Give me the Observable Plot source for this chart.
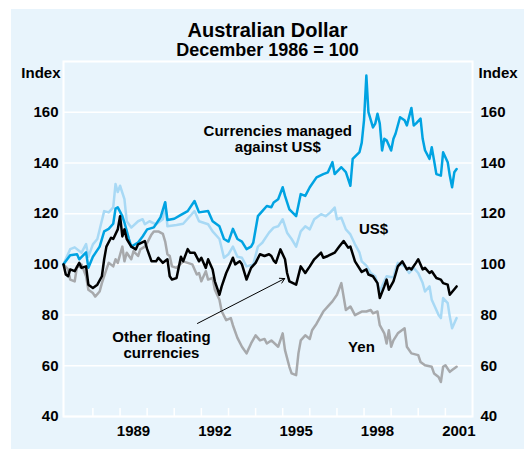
<!DOCTYPE html>
<html><head><meta charset="utf-8">
<script src="https://cdn.jsdelivr.net/npm/d3@7"></script>
<script src="https://cdn.jsdelivr.net/npm/@observablehq/plot@0.6"></script>
<style>
html,body{margin:0;padding:0;background:#fff;}
body{width:524px;height:449px;overflow:hidden;position:relative;font-family:"Liberation Sans",Arial,Helvetica,sans-serif;font-weight:bold;color:#000;}
#panel{position:absolute;left:11px;top:9px;width:513px;height:440px;background:#E8F4FC;}
#title{position:absolute;left:0;width:513px;top:11px;text-align:center;font-size:20px;line-height:20px;}
#subtitle{position:absolute;left:0;width:513px;top:32px;text-align:center;font-size:18px;line-height:18px;}
#chart{position:absolute;left:0;top:52px;}
</style></head>
<body>
<div id="panel"><div id="title">Australian Dollar</div><div id="subtitle">December 1986 = 100</div></div>
<div id="chart"></div>
<script>
// Index values, December 1986 = 100
const managed = [
 ["1986-12",100],["1987-03",103.6],["1987-06",104],["1987-07",102],["1987-10",104.7],["1987-11",98.7],
 ["1988-01",103],["1988-04",107],["1988-06",113],["1988-08",114],["1988-10",116],["1988-11",122],["1988-12",122.5],
 ["1989-02",119],["1989-03",116.5],["1989-05",110],["1989-06",107],["1989-09",108.6],["1989-11",111],
 ["1990-01",113.8],["1990-04",114.6],["1990-07",118.6],["1990-09",124.5],["1990-10",117.5],
 ["1991-01",118],["1991-04",119.5],["1991-07",121],["1991-10",125],["1991-12",120.5],
 ["1992-04",121],["1992-06",117],["1992-09",115],["1992-11",110],
 ["1993-01",109],["1993-03",114],["1993-05",110],["1993-07",109],["1993-09",106],["1993-11",107],["1993-12",108.6],
 ["1994-02",119],["1994-04",121],["1994-06",123],["1994-08",122.5],["1994-09",124.4],["1994-11",125.7],
 ["1995-01",130.4],["1995-02",127],["1995-04",121.7],["1995-07",119],["1995-09",127.7],["1995-11",127],
 ["1996-01",130.4],["1996-04",134.3],["1996-07",135.6],["1996-09",136.3],["1996-11",140.3],["1996-12",135.6],
 ["1997-03",138.3],["1997-05",136.4],["1997-07",131],["1997-08",141.6],["1997-11",144.3],["1997-12",148],
 ["1998-01",157],["1998-02",174.5],["1998-03",160],["1998-05",154],["1998-06",155.5],["1998-07",159.4],
 ["1998-08",155.5],["1998-09",144.9],["1998-10",149.5],["1998-11",148.9],
 ["1999-01",144.9],["1999-02",149.5],["1999-03",151.5],["1999-05",158],["1999-07",156.8],["1999-08",154.8],
 ["1999-10",161.7],["1999-11",154.8],["1999-12",155.5],
 ["2000-02",157.5],["2000-03",149.5],["2000-04",145],["2000-06",141.6],["2000-07",146.2],["2000-08",141],
 ["2000-09",135.6],["2000-11",135],["2000-12",144.2],
 ["2001-02",140.3],["2001-03",135],["2001-04",130.4],["2001-05",136.3],["2001-06",137.6]
];
const usd = [
 ["1986-12",100],["1987-03",106],["1987-05",106.7],["1987-08",104.6],["1987-10",108],["1987-11",103],
 ["1988-01",107.9],["1988-03",110],["1988-06",121],["1988-08",120.5],["1988-10",122.5],["1988-11",131.7],["1988-12",128.5],
 ["1989-01",131],["1989-03",125.7],["1989-04",117],["1989-06",114.5],["1989-09",117],["1989-11",117.8],["1989-12",115.8],
 ["1990-02",117],["1990-05",115.8],["1990-08",117.8],["1990-09",124.5],["1990-10",115],
 ["1991-02",115.5],["1991-05",116],["1991-10",121],["1991-12",117],
 ["1992-04",115.8],["1992-06",113],["1992-09",110],["1992-11",102.6],
 ["1993-01",104],["1993-03",107],["1993-05",103],["1993-07",102.6],["1993-09",99.2],["1993-12",100],
 ["1994-02",107],["1994-04",108.5],["1994-07",112.5],["1994-09",114.5],["1994-11",115],
 ["1995-01",117.8],["1995-03",112.5],["1995-05",110],["1995-07",107],["1995-09",113],["1995-11",115],
 ["1996-01",113.8],["1996-03",117.8],["1996-06",119.8],["1996-08",119],["1996-10",120.4],["1996-12",122.4],
 ["1997-01",117.8],["1997-03",118.4],["1997-05",113.8],["1997-07",111.8],["1997-09",107.9],["1997-11",104.6],["1997-12",101.2],
 ["1998-02",99.5],["1998-04",96.6],["1998-06",95.3],["1998-08",89.3],["1998-10",93.3],["1998-11",95.3],
 ["1999-02",94.8],["1999-03",98],["1999-04",100.6],["1999-07",99.2],["1999-09",96.6],["1999-11",98.6],
 ["2000-01",96.6],["2000-03",92.6],["2000-04",89.3],["2000-06",91.3],["2000-07",86],["2000-10",80],["2000-11",78.8],["2000-12",86.7],
 ["2001-02",84.7],["2001-03",79.4],["2001-04",74.8],["2001-06",78.8]
];
const other = [
 ["1986-12",100],["1987-01",96],["1987-02",95.3],["1987-03",98],["1987-05",97.3],["1987-07",100.6],["1987-08",98.6],
 ["1987-10",99.2],["1987-11",92],
 ["1988-01",90.7],["1988-03",92],["1988-05",95.3],["1988-06",102],["1988-07",107],["1988-09",110.5],["1988-10",110],["1988-12",113.8],
 ["1989-01",119],["1989-02",111],["1989-03",113.8],["1989-04",110],["1989-06",107],["1989-08",105.9],["1989-09",107.9],["1989-12",109.2],
 ["1990-01",106],["1990-03",101.2],["1990-05",101.2],["1990-06",102.6],["1990-08",100.6],["1990-10",102],["1990-11",95.3],["1990-12",94],
 ["1991-02",94.6],["1991-04",103],["1991-05",101.2],["1991-07",106],["1991-08",104.6],["1991-10",104.6],["1991-12",101.2],
 ["1992-01",102.6],["1992-03",98.6],["1992-04",102],["1992-06",98],["1992-07",93.3],["1992-09",88],["1992-10",91.3],["1992-12",96.6],
 ["1993-01",98.6],["1993-03",102.6],["1993-04",100],["1993-06",101.2],["1993-07",100],["1993-09",94],["1993-11",98.6],
 ["1994-01",100.6],["1994-03",104],["1994-05",103.3],["1994-07",104],["1994-08",103.3],["1994-09",101.5],["1994-10",100.6],["1994-12",105.9],
 ["1995-02",102],["1995-03",96.6],["1995-04",93.3],["1995-07",92],["1995-09",99.2],["1995-11",96.6],
 ["1996-01",99.2],["1996-03",102],["1996-06",104.6],["1996-07",102.6],["1996-09",103.3],["1996-12",104.6],
 ["1997-02",107],["1997-04",109.2],["1997-06",106.6],["1997-07",107],["1997-09",101.2],["1997-12",97],
 ["1998-02",98],["1998-03",96],["1998-05",95.3],["1998-07",92.6],["1998-08",86.7],["1998-10",91.3],["1998-11",94],["1998-12",90],
 ["1999-02",93.3],["1999-03",96],["1999-04",99.2],["1999-06",101.2],["1999-08",98],["1999-09",98.6],["1999-10",98],["1999-12",100.6],
 ["2000-01",102],["2000-03",98],["2000-04",98.6],["2000-06",96.6],["2000-07",97.3],["2000-09",94.6],["2000-11",94],["2000-12",92.6],
 ["2001-02",92],["2001-03",88],["2001-06",91.3]
];
const yen = [
 ["1986-12",100],["1987-02",98],["1987-03",94],["1987-05",93.3],["1987-06",99.2],["1987-07",99],["1987-08",100],
 ["1987-10",95.3],["1987-11",90],
 ["1988-01",88.7],["1988-02",87.3],["1988-04",89.3],["1988-05",92.6],["1988-07",98],["1988-08",100.6],["1988-10",99.2],
 ["1988-11",102],["1988-12",100.6],
 ["1989-02",107],["1989-03",101.2],["1989-04",104.6],["1989-06",102],["1989-07",105.2],["1989-09",103.3],["1989-10",105.9],["1989-12",107],
 ["1990-01",108.5],["1990-03",111.8],["1990-04",113],["1990-06",113],["1990-07",112.5],["1990-08",112],["1990-09",109],
 ["1990-10",104],["1990-11",103.3],["1990-12",99.2],
 ["1991-02",98.6],["1991-05",101.2],["1991-07",100.6],["1991-09",100],["1991-11",96],["1991-12",96.6],
 ["1992-01",93.3],["1992-03",97.3],["1992-04",94],["1992-06",94.6],["1992-07",90],["1992-09",86],["1992-10",81.5],["1992-12",78],
 ["1993-02",78.8],["1993-03",76],["1993-05",71],["1993-07",67.5],["1993-09",64.9],["1993-11",68.8],
 ["1994-01",72],["1994-03",70],["1994-05",70.6],["1994-06",68.8],["1994-08",70],["1994-11",67.5],
 ["1995-01",72.8],["1995-02",66.2],["1995-04",59.6],["1995-05",57],["1995-07",56.3],["1995-08",64.9],["1995-09",70],["1995-11",72],
 ["1996-01",70.6],["1996-02",74],["1996-04",76.6],["1996-07",81.4],["1996-09",83.4],["1996-11",85.4],
 ["1997-01",88],["1997-03",92.6],["1997-05",82],["1997-07",83.4],["1997-09",80],["1997-12",81.4],
 ["1998-02",81.4],["1998-04",82],["1998-05",80.7],["1998-07",81.4],["1998-08",76],["1998-10",72.8],["1998-11",68.8],["1998-12",74],
 ["1999-01",67.5],["1999-02",70],["1999-04",72.8],["1999-07",74.8],["1999-08",67.5],["1999-10",64.9],
 ["2000-01",64.2],["2000-02",61.5],["2000-04",60.2],["2000-07",59.6],["2000-08",57],["2000-10",55.6],["2000-11",53.6],["2000-12",59.6],
 ["2001-01",60.2],["2001-03",57.6],["2001-04",58.3],["2001-06",59.6]
];
const seriesNames = ["Yen", "US$", "Currencies managed against US$", "Other floating currencies"];
const seriesColors = ["#A7A9AC", "#A8D9F5", "#00A3E2", "#000000"];
const yTicks = [40, 60, 80, 100, 120, 140, 160];
const yearTickYears = [1988,1989,1990,1991,1992,1993,1994,1995,1996,1997,1998,1999,2000,2001];
const yearLabels = [1989, 1992, 1995, 1998, 2001];

const parse = d3.utcParse("%Y-%m");
const seriesData = [yen, usd, managed, other];
const rows = seriesData.flatMap((s, i) => s.map(([d, v]) => ({date: parse(d), value: v, series: seriesNames[i]})));

const W = 524, H = 397, mt = 9, mb = 33, ml = 63, mr = 52;
const innerH = H - mt - mb;
const font = "bold 15px 'Liberation Sans', Arial, Helvetica, sans-serif";

const chart = Plot.plot({
  width: W, height: H,
  marginTop: mt, marginBottom: mb, marginLeft: ml, marginRight: mr,
  style: {background: "transparent", font, overflow: "visible"},
  x: {type: "utc", domain: [new Date(Date.UTC(1986, 11, 1)), new Date(Date.UTC(2002, 0, 1))]},
  y: {domain: [40, 180]},
  color: {domain: seriesNames, range: seriesColors},
  marks: [
    Plot.ruleY(yTicks, {stroke: "white", strokeWidth: 1.5}),
    Plot.tickX(yearTickYears.map(y => new Date(Date.UTC(y, 0, 1))), {x: d => d, stroke: "white", strokeWidth: 1.5, insetTop: innerH - 8}),
    Plot.frame({stroke: "white", strokeWidth: 2}),
    Plot.lineY(rows, {x: "date", y: "value", z: "series", stroke: "series", strokeWidth: 2.5, strokeLinejoin: "round"}),
    Plot.arrow([{x1: new Date(Date.UTC(1991, 10, 10)), y1: 76.7, x2: new Date(Date.UTC(1995, 0, 28)), y2: 94.4}],
      {x1: "x1", y1: "y1", x2: "x2", y2: "y2", stroke: "black", strokeWidth: 1, headLength: 8}),
    Plot.text([
      {date: new Date(Date.UTC(1994, 9, 27)), value: 149.6, label: "Currencies managed\nagainst US$"},
      {date: new Date(Date.UTC(1998, 4, 10)), value: 114.1, label: "US$"},
      {date: new Date(Date.UTC(1990, 6, 12)), value: 68.4, label: "Other floating\ncurrencies"},
      {date: new Date(Date.UTC(1997, 10, 27)), value: 67.6, label: "Yen"}
    ], {x: "date", y: "value", text: "label", fill: "black", lineHeight: 1.07}),
    Plot.text(["Index"], {text: d => d, frameAnchor: "top-left", textAnchor: "end", dx: -3, dy: 6, fill: "black"}),
    Plot.text(["Index"], {text: d => d, frameAnchor: "top-right", textAnchor: "start", dx: 6, dy: 6, fill: "black"}),
    Plot.axisY({anchor: "left", ticks: yTicks, tickSize: 0, tickPadding: 5, fill: "black"}),
    Plot.axisY({anchor: "right", ticks: yTicks, tickSize: 0, tickPadding: 8, fill: "black"}),
    Plot.axisX({anchor: "bottom", ticks: yearLabels.map(y => new Date(Date.UTC(y, 6, 1))), tickSize: 0, tickPadding: 9,
      tickFormat: d => String(d.getUTCFullYear()), fill: "black"})
  ]
});
document.getElementById("chart").appendChild(chart);
</script>
</body></html>
